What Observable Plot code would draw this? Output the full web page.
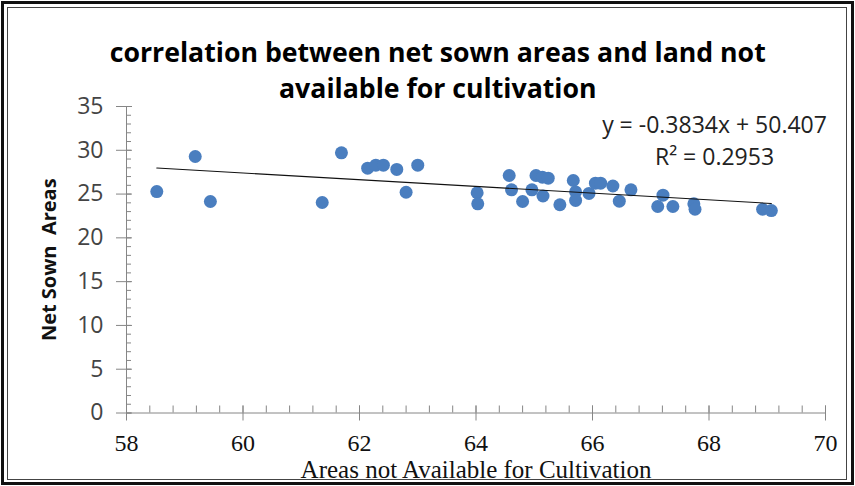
<!DOCTYPE html>
<html>
<head>
<meta charset="utf-8">
<script src="https://cdn.jsdelivr.net/npm/d3@7"></script>
<script src="https://cdn.jsdelivr.net/npm/@observablehq/plot@0.6"></script>
<style>
  html, body { margin: 0; padding: 0; background: #fff; }
  #wrap { position: relative; width: 855px; height: 486px; overflow: hidden; background: #fff; }
  #title { position: relative; height: 100px; font-family: "Open Sans", sans-serif; font-weight: 700; font-size: 26px; color: #000; }
  #title .ln { position: absolute; white-space: nowrap; line-height: 30px; transform-origin: center center; }
  #chart svg { overflow: visible; display: block; }
  .frame1 { position: absolute; left: 1px; top: 1px; width: 853px; height: 484px; box-sizing: border-box; border: 3px solid #111; pointer-events: none; }
  .frame2 { position: absolute; left: 7px; top: 7px; width: 840px; height: 473px; box-sizing: border-box; border: 1.5px solid #444; pointer-events: none; }
</style>
</head>
<body>
<div id="wrap">
  <div id="title"></div>
  <div id="chart"></div>
  <div class="frame1"></div>
  <div class="frame2"></div>
</div>
<script>
// ---- data ----
const titleLines = ["correlation between net sown areas and land not", "available for cultivation"];
const xTitle = "Areas not Available for Cultivation";
const yTitle = "Net Sown  Areas";
const areasNotAvailable = [58.52, 59.18, 59.44, 61.36, 61.69, 62.14, 62.28, 62.41, 62.64, 62.80, 63.00,
  64.02, 64.03, 64.57, 64.61, 64.80, 64.96, 65.03, 65.14, 65.24, 65.15, 65.44, 65.67, 65.71, 65.71,
  65.94, 66.05, 66.14, 66.35, 66.46, 66.66, 67.12, 67.21, 67.38, 67.74, 67.76, 68.92, 69.07];
const netSownAreas = [25.29, 29.29, 24.15, 24.04, 29.71, 27.96, 28.30, 28.30, 27.81, 25.21, 28.30,
  25.15, 23.89, 27.12, 25.49, 24.15, 25.49, 27.12, 26.93, 26.81, 24.78, 23.78, 26.55, 25.24, 24.27,
  25.07, 26.24, 26.24, 25.92, 24.19, 25.49, 23.58, 24.87, 23.58, 23.89, 23.27, 23.27, 23.12];
const trendSlope = -0.3834;
const trendIntercept = 50.407;
const rSquared = 0.2953;
const xTicks = [58, 60, 62, 64, 66, 68, 70];
const yTicks = [0, 5, 10, 15, 20, 25, 30, 35];

// ---- derived tables ----
const points = areasNotAvailable.map((x, i) => ({x, y: netSownAreas[i]}));
const [xMin, xMax] = d3.extent(areasNotAvailable);
const trend = [xMin, xMax].map(x => ({x, y: trendSlope * x + trendIntercept}));
const eqLabel = `y = ${trendSlope}x + ${trendIntercept}`;
const r2Label = `R² = ${rSquared}`;
const xMinor = d3.range(xTicks[0], xTicks[xTicks.length - 1] + 1e-9, 0.4);
const yMinor = d3.range(yTicks[0], yTicks[yTicks.length - 1] + 1e-9, 1);

// ---- title ----
const titleDiv = document.getElementById("title");
const centers = [52, 88];
const spans = titleLines.map((t, i) => {
  const s = document.createElement("span");
  s.className = "ln";
  s.textContent = t;
  titleDiv.appendChild(s);
  return s;
});

// ---- plot ----
const axisColor = "#868686";
const plot = Plot.plot({
  width: 855,
  height: 386,
  marginLeft: 126,
  marginRight: 30,
  marginTop: 6,
  marginBottom: 73.5,
  x: {domain: [58, 70], axis: null},
  y: {domain: [0, 35], axis: null},
  style: {background: "transparent"},
  marks: [
    // axis lines
    Plot.ruleY([0], {stroke: axisColor, strokeWidth: 1}),
    Plot.ruleX([58], {stroke: axisColor, strokeWidth: 1}),
    // x ticks
    Plot.ruleX(xMinor, {x: d => d, y1: 0, y2: 0, insetTop: -7, insetBottom: 0, stroke: axisColor}),
    Plot.ruleX(xTicks, {x: d => d, y1: 0, y2: 0, insetTop: -7, insetBottom: -8, stroke: axisColor}),
    // y ticks
    Plot.ruleY(yMinor, {y: d => d, x1: 58, x2: 58, insetLeft: 0, insetRight: -5, stroke: axisColor}),
    Plot.ruleY(yTicks, {y: d => d, x1: 58, x2: 58, insetLeft: -10, insetRight: -6, stroke: axisColor}),
    // tick labels
    Plot.text(xTicks, {x: d => d, frameAnchor: "bottom", dy: 30.5, textAnchor: "middle", lineAnchor: "middle",
      fontFamily: "Liberation Serif", fontSize: 24, fill: "#111"}),
    Plot.text(yTicks, {y: d => d, frameAnchor: "left", dx: -23, textAnchor: "end", lineAnchor: "middle",
      fontFamily: "Open Sans", fontSize: 23, fill: "#444"}),
    // axis titles
    Plot.text([xTitle], {frameAnchor: "bottom", dy: 56.5, textAnchor: "middle", lineAnchor: "middle",
      fontFamily: "Liberation Serif", fontSize: 25, fill: "#111"}),
    Plot.text([yTitle], {frameAnchor: "left", dx: -77, rotate: -90, textAnchor: "middle", lineAnchor: "middle",
      fontFamily: "Open Sans", fontWeight: "bold", fontSize: 20, fill: "#111"}),
    // data
    Plot.dot(points, {x: "x", y: "y", r: 6.5, fill: "#4a7ebf", stroke: "none"}),
    Plot.line(trend, {x: "x", y: "y", stroke: "#111", strokeWidth: 1.1}),
    // trendline labels
    Plot.text([eqLabel], {frameAnchor: "top-right", dx: -111, dy: 19, textAnchor: "middle", lineAnchor: "middle",
      fontFamily: "Open Sans", fontSize: 23, fill: "#222"}),
    Plot.text([r2Label], {frameAnchor: "top-right", dx: -111, dy: 51, textAnchor: "middle", lineAnchor: "middle",
      fontFamily: "Open Sans", fontSize: 23, fill: "#222"})
  ]
});
document.getElementById("chart").appendChild(plot);
plot.querySelectorAll("text").forEach(t => { t.setAttribute("xml:space", "preserve"); t.style.whiteSpace = "pre"; });

// fit title width to the reference (line 1 spans ~656px centred at x=438)
const w0 = spans[0].getBoundingClientRect().width;
const k = 656 / w0;
spans.forEach((s, i) => {
  const w = s.getBoundingClientRect().width;
  const h = s.getBoundingClientRect().height;
  s.style.left = (438 - w / 2) + "px";
  s.style.top = (centers[i] - h / 2) + "px";
  s.style.transform = `scaleX(${k})`;
});
</script>
</body>
</html>
